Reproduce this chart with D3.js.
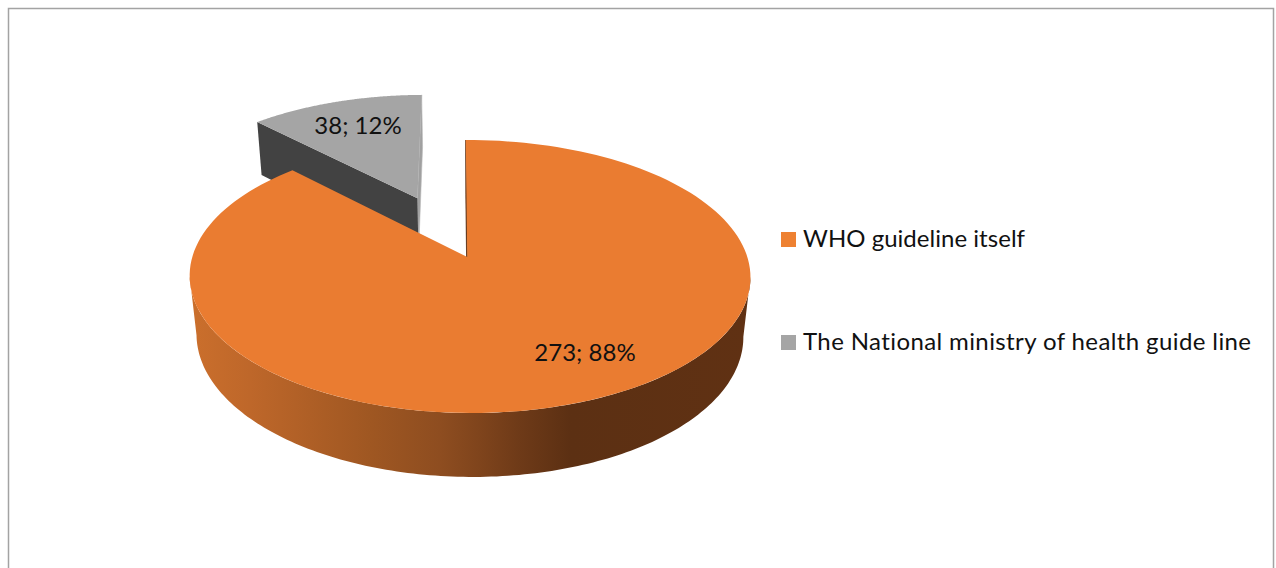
<!DOCTYPE html>
<html>
<head>
<meta charset="utf-8">
<script src="https://cdn.jsdelivr.net/npm/d3@7/dist/d3.min.js"></script>
<style>
  html, body { margin: 0; padding: 0; background: #fff; overflow: hidden; }
  svg { display: block; }
  text { font-family: Lato, "Open Sans", sans-serif; fill: #111; font-variant-ligatures: none; }
</style>
</head>
<body>
<svg id="chart" width="1276" height="568"></svg>
<script>
// Guideline sources used by respondents
const categories = ["WHO guideline itself", "The National ministry of health guide line"];
const counts = [273, 38];
const percentLabels = ["88%", "12%"];
const topColors = ["#EA7C31", "#A5A5A5"];

const svg = d3.select("#chart");

// Chart frame, open past the bottom edge
svg.append("rect")
  .attr("x", 8.5).attr("y", 8.5)
  .attr("width", 1265).attr("height", 600)
  .attr("fill", "#fff").attr("stroke", "#a3a3a3").attr("stroke-width", 1.5);

// Perspective projection of the tilted disc.
// (u, v) are ground-plane coordinates in pie radii, w runs 0 (top face) to 1 (base).
const view = { cx: 467.3, cy: 257, a: 277.5, k: 133.7, depth: 60.3, persp: 0.1429, side: -0.009, lift: 0.025, shear: -1.5 };
function project(u, v, w) {
  const d = 1 + view.persp * v + view.side * u + view.lift * w;
  return [
    view.cx + view.a * u / d + view.shear * v,
    view.cy + (-view.k * v + view.depth * w) / d
  ];
}

const arcs = d3.pie().sort(null).startAngle(0).endAngle(2 * Math.PI)(counts);
const line = d3.line();
const explode = [0, 0.506];

// Ground-plane origin of a slice after pulling it out along its bisector
function origin(arc, i) {
  const mid = (arc.startAngle + arc.endAngle) / 2;
  return [explode[i] * Math.sin(mid), explode[i] * Math.cos(mid)];
}

function rim(arc, i, w, from = arc.startAngle, to = arc.endAngle) {
  const [ou, ov] = origin(arc, i);
  return d3.range(0, 161).map(n => {
    const t = from + (to - from) * n / 160;
    return project(ou + Math.sin(t), ov + Math.cos(t), w);
  });
}
function apex(arc, i, w) {
  const [ou, ov] = origin(arc, i);
  return project(ou, ov, w);
}
function radial(arc, i, angle) {
  const [ou, ov] = origin(arc, i);
  const edge = w => project(ou + Math.sin(angle), ov + Math.cos(angle), w);
  return [apex(arc, i, 0), edge(0), edge(1), apex(arc, i, 1)];
}

// Side-wall shading across the orange slice
const defs = svg.append("defs");
const wallStops = [
  [190, "#CB6F2C"], [250, "#BE672A"], [370, "#9F5722"], [440, "#8E4D20"],
  [480, "#7F441C"], [520, "#6E3A18"], [570, "#5C3013"], [750, "#603113"]
];
const grad = defs.append("linearGradient")
  .attr("id", "wallShade")
  .attr("gradientUnits", "userSpaceOnUse")
  .attr("x1", 190).attr("x2", 750).attr("y1", 0).attr("y2", 0);
grad.selectAll("stop").data(wallStops).join("stop")
  .attr("offset", d => (d[0] - 190) / 560)
  .attr("stop-color", d => d[1]);

const pie = svg.append("g");

// Pulled-out grey slice: walls then top face
const grey = arcs[1];
pie.append("path")
  .attr("d", line(radial(grey, 1, grey.endAngle)) + "Z")
  .attr("fill", "#a0a0a0").attr("stroke", "#b8b8b8").attr("stroke-width", 0.6);
pie.append("path")
  .attr("d", line(radial(grey, 1, grey.startAngle)) + "Z")
  .attr("fill", "#424242");
pie.append("path")
  .attr("d", line([apex(grey, 1, 0), ...rim(grey, 1, 0)]) + "Z")
  .attr("fill", topColors[1]);

// Orange slice: cut edge, outer wall between the two silhouette tangents, top face
const orange = arcs[0];
pie.append("path")
  .attr("d", line(radial(orange, 0, orange.startAngle)) + "Z")
  .attr("fill", "#5E3012").attr("stroke", "#5E3012").attr("stroke-width", 0.8);
const tangent = Math.acos(-view.persp);
const wallTop = rim(orange, 0, 0, tangent, 2 * Math.PI - tangent);
const wallBase = rim(orange, 0, 1, tangent, 2 * Math.PI - tangent);
pie.append("path")
  .attr("d", line([...wallTop, ...wallBase.reverse()]) + "Z")
  .attr("fill", "url(#wallShade)");
pie.append("path")
  .attr("d", line([apex(orange, 0, 0), ...rim(orange, 0, 0)]) + "Z")
  .attr("fill", topColors[0]);

// Value labels
const labelAt = [[585, 361], [358, 134]];
svg.selectAll("text.value").data(counts).join("text")
  .attr("class", "value")
  .attr("x", (d, i) => labelAt[i][0])
  .attr("y", (d, i) => labelAt[i][1])
  .attr("text-anchor", "middle")
  .attr("font-size", 24)
  .text((d, i) => `${d}; ${percentLabels[i]}`);

// Legend
const legendY = d3.scalePoint().domain(categories).range([240, 343]);
const legendWidths = [222, 448];
const legend = svg.selectAll("g.legend").data(categories).join("g")
  .attr("class", "legend")
  .attr("transform", d => `translate(781,${legendY(d)})`);
legend.append("rect")
  .attr("x", 0).attr("y", -8).attr("width", 15).attr("height", 15)
  .attr("fill", (d, i) => i === 0 ? "#EE8132" : "#A5A5A5");
legend.append("text")
  .attr("x", 22).attr("y", 7)
  .attr("font-size", 24)
  .attr("textLength", (d, i) => legendWidths[i])
  .attr("lengthAdjust", "spacing")
  .text(d => d);
</script>
</body>
</html>
